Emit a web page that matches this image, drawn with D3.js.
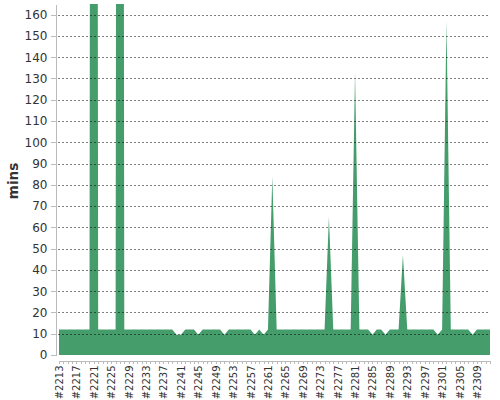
<!DOCTYPE html>
<html>
<head>
<meta charset="utf-8">
<script src="https://cdnjs.cloudflare.com/ajax/libs/d3/7.8.5/d3.min.js"></script>
<style>
  body { margin: 0; background: #fff; }
  svg, svg text { font-family: "DejaVu Sans", sans-serif; }
  .axis path, .axis line { stroke: #bbb; shape-rendering: crispEdges; }
  .axis text { fill: #333; }
  .grid line { stroke: #000; stroke-opacity: .5; stroke-dasharray: 2,2; shape-rendering: crispEdges; }
</style>
</head>
<body>
<svg id="chart" width="500" height="400"></svg>
<script>
var builds = [
  2213, 2214, 2215, 2216, 2217, 2218, 2219, 2220, 2221, 2222,
  2223, 2224, 2225, 2226, 2227, 2228, 2229, 2230, 2231, 2232,
  2233, 2234, 2235, 2236, 2237, 2238, 2239, 2240, 2241, 2242,
  2243, 2244, 2245, 2246, 2247, 2248, 2249, 2250, 2251, 2252,
  2253, 2254, 2255, 2256, 2257, 2258, 2259, 2260, 2261, 2262,
  2263, 2264, 2265, 2266, 2267, 2268, 2269, 2270, 2271, 2272,
  2273, 2274, 2275, 2276, 2277, 2278, 2279, 2280, 2281, 2282,
  2283, 2284, 2285, 2286, 2287, 2288, 2289, 2290, 2291, 2292,
  2293, 2294, 2295, 2296, 2297, 2298, 2299, 2300, 2301, 2302,
  2303, 2304, 2305, 2306, 2307, 2308, 2309, 2310, 2311, 2312
];

// build duration in minutes, #2221 and #2227 run far off the top
var durations = [
  12, 12, 12, 12, 12, 12, 12, 12, 1800, 12,
  12, 12, 12, 12, 1700, 12, 12, 12, 12, 12,
  12, 12, 12, 12, 12, 12, 12, 9.5, 9.5, 12,
  12, 12, 9.5, 12, 12, 12, 12, 12, 9.5, 12,
  12, 12, 12, 12, 12, 9.5, 12, 9.5, 12, 84,
  12, 12, 12, 12, 12, 12, 12, 12, 12, 12,
  12, 12, 65, 12, 12, 12, 12, 12, 133, 12,
  12, 12, 9.5, 12, 12, 9.5, 12, 12, 12, 47,
  12, 12, 12, 12, 12, 12, 12, 9.5, 12, 157,
  12, 12, 12, 12, 12, 9.5, 12, 12, 12, 12
];

var yTicks = [0, 10, 20, 30, 40, 50, 60, 70, 80, 90, 100, 110, 120, 130, 140, 150, 160];
var yMax = 165;
var yLabel = 'mins';

var
  svg = d3.select('#chart'),
  plot = {left: 59, right: 490, top: 4, bottom: 355},
  axisX = 55,
  axisY = 360,
  font = '"DejaVu Sans", sans-serif',
  data = builds.map((b, i) => ({build: b, value: durations[i]})),
  xScale = d3.scalePoint().domain(builds).range([plot.left, plot.right]),
  yScale = d3.scaleLinear().domain([0, yMax]).range([plot.bottom, plot.top]),
  area = d3.area()
    .x(d => xScale(d.build))
    .y0(yScale(0))
    .y1(d => yScale(d.value))
  ;

svg.append('defs')
  .append('clipPath')
  .attr('id', 'clip')
  .append('rect')
  .attr('x', plot.left)
  .attr('y', plot.top)
  .attr('width', plot.right - plot.left)
  .attr('height', plot.bottom - plot.top);

svg.append('path')
  .datum(data)
  .attr('clip-path', 'url(#clip)')
  .attr('fill', '#459d6c')
  .attr('d', area);

// dotted grid sits on top of the area
svg.append('g')
  .attr('class', 'grid')
  .selectAll('line')
  .data(yTicks.filter(t => t > 0))
  .enter().append('line')
  .attr('x1', plot.left - 1)
  .attr('x2', plot.right)
  .attr('y1', d => Math.round(yScale(d)) + 0.5)
  .attr('y2', d => Math.round(yScale(d)) + 0.5);

svg.append('g')
  .attr('class', 'axis axis--y')
  .attr('transform', 'translate(' + (axisX + 0.5) + ',0)')
  .call(d3.axisLeft(yScale).tickValues(yTicks).tickSize(5).tickSizeOuter(0).tickPadding(3))
  .attr('font-family', font)
  .call(g => g.selectAll('text').style('font-size', '12px'));

svg.append('g')
  .attr('class', 'axis axis--x')
  .attr('transform', 'translate(0,' + (axisY + 0.5) + ')')
  .call(d3.axisBottom(xScale)
    .tickSize(3)
    .tickSizeOuter(0)
    .tickFormat((d, i) => i % 4 === 0 ? '#' + d : ''))
  .attr('font-family', font)
  .call(g => g.selectAll('text')
    .style('font-size', '10px')
    .attr('transform', 'rotate(-90)')
    .attr('text-anchor', 'end')
    .attr('x', -5)
    .attr('y', 0)
    .attr('dy', '0.35em'));

svg.append('text')
  .attr('transform', 'translate(18,181) rotate(-90)')
  .attr('text-anchor', 'middle')
  .attr('font-family', font)
  .style('font-size', '13.5px')
  .style('font-weight', 'bold')
  .style('fill', '#333')
  .text(yLabel);
</script>
</body>
</html>
